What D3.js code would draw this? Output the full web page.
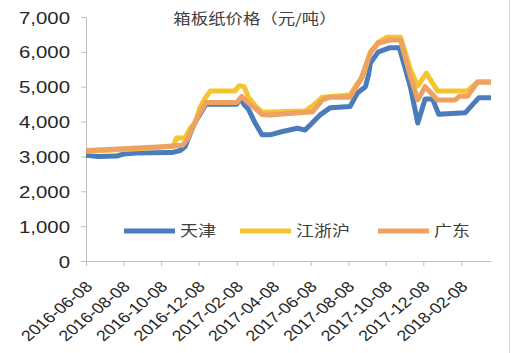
<!DOCTYPE html>
<html>
<head>
<meta charset="utf-8">
<script src="https://cdn.jsdelivr.net/npm/d3@7"></script>
<style>
  html, body { margin: 0; padding: 0; background: #fff; }
  svg { display: block; }
</style>
</head>
<body>
<div id="chart"></div>
<script>
const TITLE = "箱板纸价格（元/吨）";
const SERIES_NAMES = ["天津", "江浙沪", "广东"];
const SERIES_COLORS = ["#4a7cbc", "#f6c331", "#eda262"];
const Y_TICKS = [0, 1000, 2000, 3000, 4000, 5000, 6000, 7000];
const X_TICKS = [
    "2016-06-08", "2016-08-08", "2016-10-08", "2016-12-08", "2017-02-08", "2017-04-08",
    "2017-06-08", "2017-08-08", "2017-10-08", "2017-12-08", "2018-02-08"
];
const X_DOMAIN = ["2016-06-08", "2018-03-28"];

// 天津
const TIANJIN = [
    ["2016-06-08", 3030], ["2016-06-28", 3000], ["2016-07-28", 3010], ["2016-08-08", 3070],
    ["2016-08-28", 3100], ["2016-10-25", 3110], ["2016-11-08", 3170], ["2016-11-16", 3280],
    ["2016-11-22", 3550], ["2016-11-30", 3900], ["2016-12-08", 4150], ["2016-12-20", 4500],
    ["2017-02-08", 4500], ["2017-02-14", 4660], ["2017-02-20", 4480], ["2017-02-27", 4350],
    ["2017-03-10", 3950], ["2017-03-21", 3620], ["2017-04-03", 3620], ["2017-04-20", 3700],
    ["2017-05-17", 3810], ["2017-05-30", 3760], ["2017-06-10", 3950], ["2017-06-24", 4200],
    ["2017-07-10", 4400], ["2017-08-11", 4430], ["2017-08-23", 4820], ["2017-09-05", 5000],
    ["2017-09-10", 5340], ["2017-09-13", 5680], ["2017-09-26", 6000], ["2017-10-04", 6050],
    ["2017-10-15", 6120], ["2017-10-30", 6120], ["2017-11-17", 5000], ["2017-11-29", 3960],
    ["2017-12-11", 4650], ["2017-12-23", 4650], ["2018-01-02", 4210], ["2018-02-14", 4250],
    ["2018-03-08", 4680], ["2018-03-28", 4680]
];

// 江浙沪
const JIANGZHEHU = [
    ["2016-06-08", 3150], ["2016-08-08", 3200], ["2016-10-08", 3260], ["2016-10-28", 3290],
    ["2016-11-02", 3530], ["2016-11-16", 3530], ["2016-11-24", 3800], ["2016-12-02", 3950],
    ["2016-12-10", 4400], ["2016-12-18", 4650], ["2016-12-27", 4880], ["2017-02-05", 4880],
    ["2017-02-12", 5030], ["2017-02-20", 5000], ["2017-02-27", 4700], ["2017-03-10", 4450],
    ["2017-03-21", 4270], ["2017-05-30", 4300], ["2017-06-11", 4450], ["2017-06-27", 4700],
    ["2017-08-11", 4760], ["2017-08-23", 5100], ["2017-09-01", 5300], ["2017-09-13", 6000],
    ["2017-09-26", 6280], ["2017-10-10", 6420], ["2017-11-01", 6420], ["2017-11-17", 5500],
    ["2017-11-29", 5020], ["2017-12-13", 5390], ["2017-12-31", 4880], ["2018-02-18", 4880],
    ["2018-03-06", 5140], ["2018-03-28", 5140]
];

// 广东
const GUANGDONG = [
    ["2016-06-08", 3170], ["2016-08-08", 3220], ["2016-10-08", 3280], ["2016-11-12", 3320],
    ["2016-11-20", 3500], ["2016-11-30", 3900], ["2016-12-10", 4250], ["2016-12-20", 4550],
    ["2017-02-08", 4550], ["2017-02-16", 4720], ["2017-02-26", 4550], ["2017-03-10", 4380],
    ["2017-03-21", 4200], ["2017-04-03", 4190], ["2017-06-11", 4280], ["2017-06-27", 4620],
    ["2017-07-10", 4700], ["2017-08-11", 4700], ["2017-08-23", 5050], ["2017-08-28", 5190],
    ["2017-09-13", 5970], ["2017-09-26", 6250], ["2017-10-15", 6340], ["2017-11-01", 6340],
    ["2017-11-17", 5300], ["2017-11-29", 4620], ["2017-12-11", 5000], ["2017-12-31", 4620],
    ["2018-01-29", 4620], ["2018-02-05", 4730], ["2018-02-18", 4730], ["2018-03-06", 5130],
    ["2018-03-28", 5130]
];

const ALL_SERIES = [TIANJIN, JIANGZHEHU, GUANGDONG];

const width = 512, height = 353;
const plot = { left: 86, right: 491, top: 17, bottom: 261 };
const stretch = 1.2;   // glyphs in the picture are a bit wider than normal
const numFont = "'Liberation Sans', Arial, sans-serif";
const cjkFont = "'Noto Sans CJK SC', 'Noto Sans', sans-serif";
const axisColor = "#bfbfbf";

const parse = d3.timeParse("%Y-%m-%d");

const svg = d3.select("#chart")
    .append("svg")
    .attr("width", width)
    .attr("height", height)
    .style("background", "#fff");

const x = d3.scaleTime()
    .domain(X_DOMAIN.map(parse))
    .range([plot.left, plot.right]);

const y = d3.scaleLinear()
    .domain([0, 7000])
    .range([plot.bottom, plot.top]);

// y axis
const yAxis = svg.append("g")
    .attr("transform", `translate(${plot.left},0)`)
    .call(d3.axisLeft(y).tickValues(Y_TICKS).tickFormat(d3.format(",")).tickSize(5).tickSizeOuter(0));
yAxis.select(".domain").attr("stroke", axisColor);
yAxis.selectAll(".tick line").attr("stroke", axisColor);
yAxis.selectAll(".tick text")
    .attr("x", 0)
    .attr("dy", "0.36em")
    .attr("transform", `translate(-16,0) scale(${stretch},1)`)
    .style("font-family", numFont)
    .style("font-size", "17px")
    .attr("fill", "#262626");

// x axis
const xAxis = svg.append("g")
    .attr("transform", `translate(0,${plot.bottom})`)
    .call(d3.axisBottom(x).tickValues(X_TICKS.map(parse)).tickSize(5).tickSizeOuter(0).tickFormat(""));
xAxis.select(".domain").attr("stroke", axisColor);
xAxis.selectAll(".tick line").attr("stroke", axisColor);

svg.append("g")
    .selectAll("text")
    .data(X_TICKS)
    .join("text")
    .attr("transform", d => `translate(${x(parse(d)) + 3},${plot.bottom + 23}) scale(${stretch},1) rotate(-45)`)
    .attr("text-anchor", "end")
    .attr("dy", "0.35em")
    .style("font-family", numFont)
    .style("font-size", "15px")
    .attr("fill", "#262626")
    .text(d => d);

// lines
const line = d3.line()
    .x(d => x(parse(d[0])))
    .y(d => y(d[1]));

ALL_SERIES.forEach((s, i) => {
    svg.append("path")
        .datum(s)
        .attr("fill", "none")
        .attr("stroke", SERIES_COLORS[i])
        .attr("stroke-width", 5)
        .attr("stroke-linejoin", "round")
        .attr("d", line);
});

// title
svg.append("text")
    .attr("transform", `translate(255,19) scale(${stretch},1)`)
    .attr("text-anchor", "middle")
    .attr("dy", "0.35em")
    .style("font-family", cjkFont)
    .style("font-size", "14.5px")
    .attr("fill", "#404040")
    .text(TITLE);

// legend
const legendX = [124, 240, 378];
const legend = svg.append("g");
SERIES_NAMES.forEach((name, i) => {
    legend.append("line")
        .attr("x1", legendX[i]).attr("x2", legendX[i] + 51)
        .attr("y1", 231).attr("y2", 231)
        .attr("stroke", SERIES_COLORS[i])
        .attr("stroke-width", 5);
    legend.append("text")
        .attr("transform", `translate(${legendX[i] + 56},231) scale(${stretch},1)`)
        .attr("dy", "0.35em")
        .style("font-family", cjkFont)
        .style("font-size", "15px")
        .attr("fill", "#404040")
        .text(name);
});

// right frame edge
svg.append("line")
    .attr("x1", 509.5).attr("x2", 509.5)
    .attr("y1", 0).attr("y2", height)
    .attr("stroke", "#d9d9d9");
</script>
</body>
</html>
